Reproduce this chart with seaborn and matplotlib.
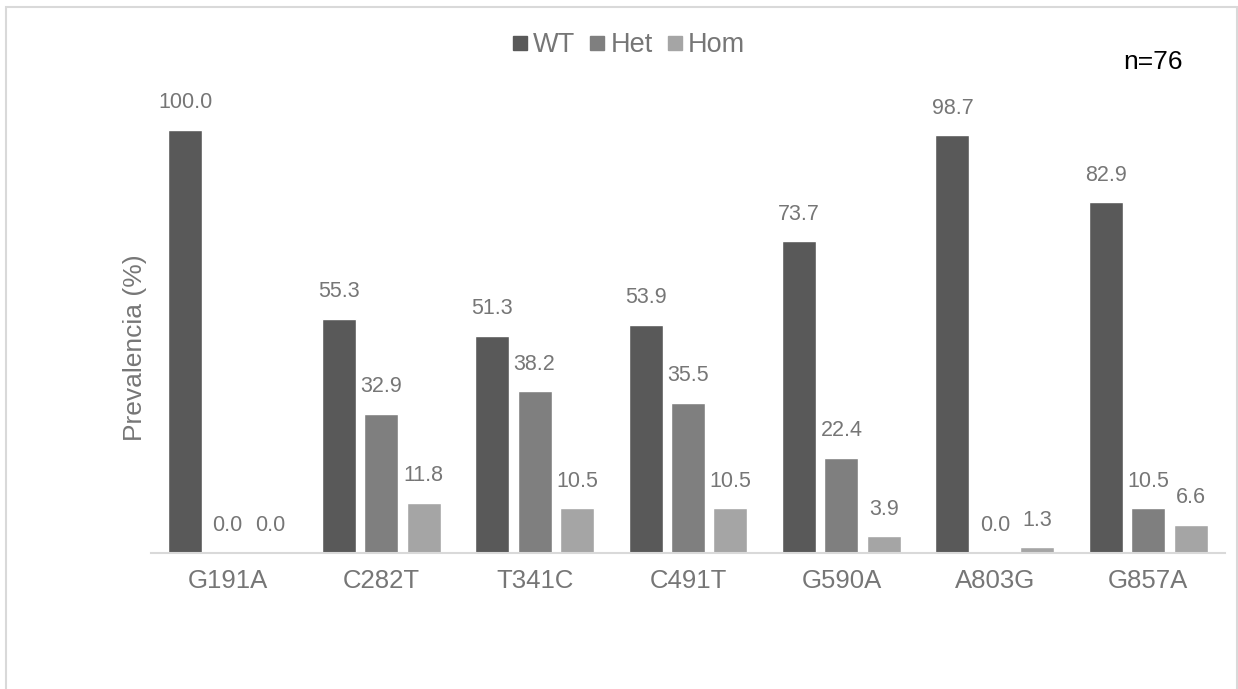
import matplotlib
matplotlib.use("Agg")
import matplotlib.pyplot as plt
from matplotlib.patches import Rectangle
from matplotlib.lines import Line2D
import seaborn as sns
import pandas as pd

categories = ["G191A", "C282T", "T341C", "C491T", "G590A", "A803G", "G857A"]
series = ["WT", "Het", "Hom"]
wt = [100.0, 55.3, 51.3, 53.9, 73.7, 98.7, 82.9]
het = [0.0, 32.9, 38.2, 35.5, 22.4, 0.0, 10.5]
hom = [0.0, 11.8, 10.5, 10.5, 3.9, 1.3, 6.6]
colors = ["#595959", "#7f7f7f", "#a5a5a5"]

rows = []
for name, vals in zip(series, [wt, het, hom]):
    for c, v in zip(categories, vals):
        rows.append({"cat": c, "serie": name, "val": v})
df = pd.DataFrame(rows)

sns.set_theme(style="white")
plt.rcParams["font.family"] = ["Liberation Sans", "DejaVu Sans"]
txt = "#767676"

fig = plt.figure(figsize=(12.38, 6.89), dpi=100)
ax = fig.add_axes([151 / 1238, 1 - 552.7 / 689, (1225 - 151) / 1238, (552.7 - 130) / 689])

sns.barplot(data=df, x="cat", y="val", hue="serie", order=categories,
            hue_order=series, palette=colors, width=0.83, gap=0.2,
            saturation=1, ax=ax, legend=False)

for cont in ax.containers:
    ax.bar_label(cont, fmt="%.1f", padding=12, fontsize=15.5, color=txt)

ax.set_ylim(0, 100)
ax.set_xlim(-0.5, len(categories) - 0.5)
ax.set_yticks([])
ax.set_xlabel("")
ax.set_ylabel("Prevalencia (%)", fontsize=19, color=txt)
ax.yaxis.set_label_coords(-4 / 1074, 0.485)
ax.tick_params(axis="x", length=0, pad=12, labelsize=18.5, labelcolor=txt)
for s in ["top", "right", "left"]:
    ax.spines[s].set_visible(False)
ax.spines["bottom"].set_color("#d9d9d9")
ax.spines["bottom"].set_linewidth(1.5)

handles = [Line2D([], [], marker="s", linestyle="", markersize=10,
                  markerfacecolor=c, markeredgecolor=c) for c in colors]
fig.legend(handles, series, loc="center", bbox_to_anchor=(627 / 1238, 1 - 45 / 689),
           ncol=3, frameon=False, fontsize=19.5, labelcolor=txt,
           handletextpad=0.1, columnspacing=0.4, handlelength=0.8)

fig.text(1153 / 1238, 1 - 62 / 689, "n=76", ha="center", va="center",
         fontsize=19, color="black")

fig.patches.append(Rectangle((5.5 / 1238, -0.05), (1237 - 5.5) / 1238, 1.05 - 6.5 / 689,
                             transform=fig.transFigure, fill=False,
                             edgecolor="#d9d9d9", linewidth=1.5))

fig.savefig("out.png", dpi=100, facecolor="white")
